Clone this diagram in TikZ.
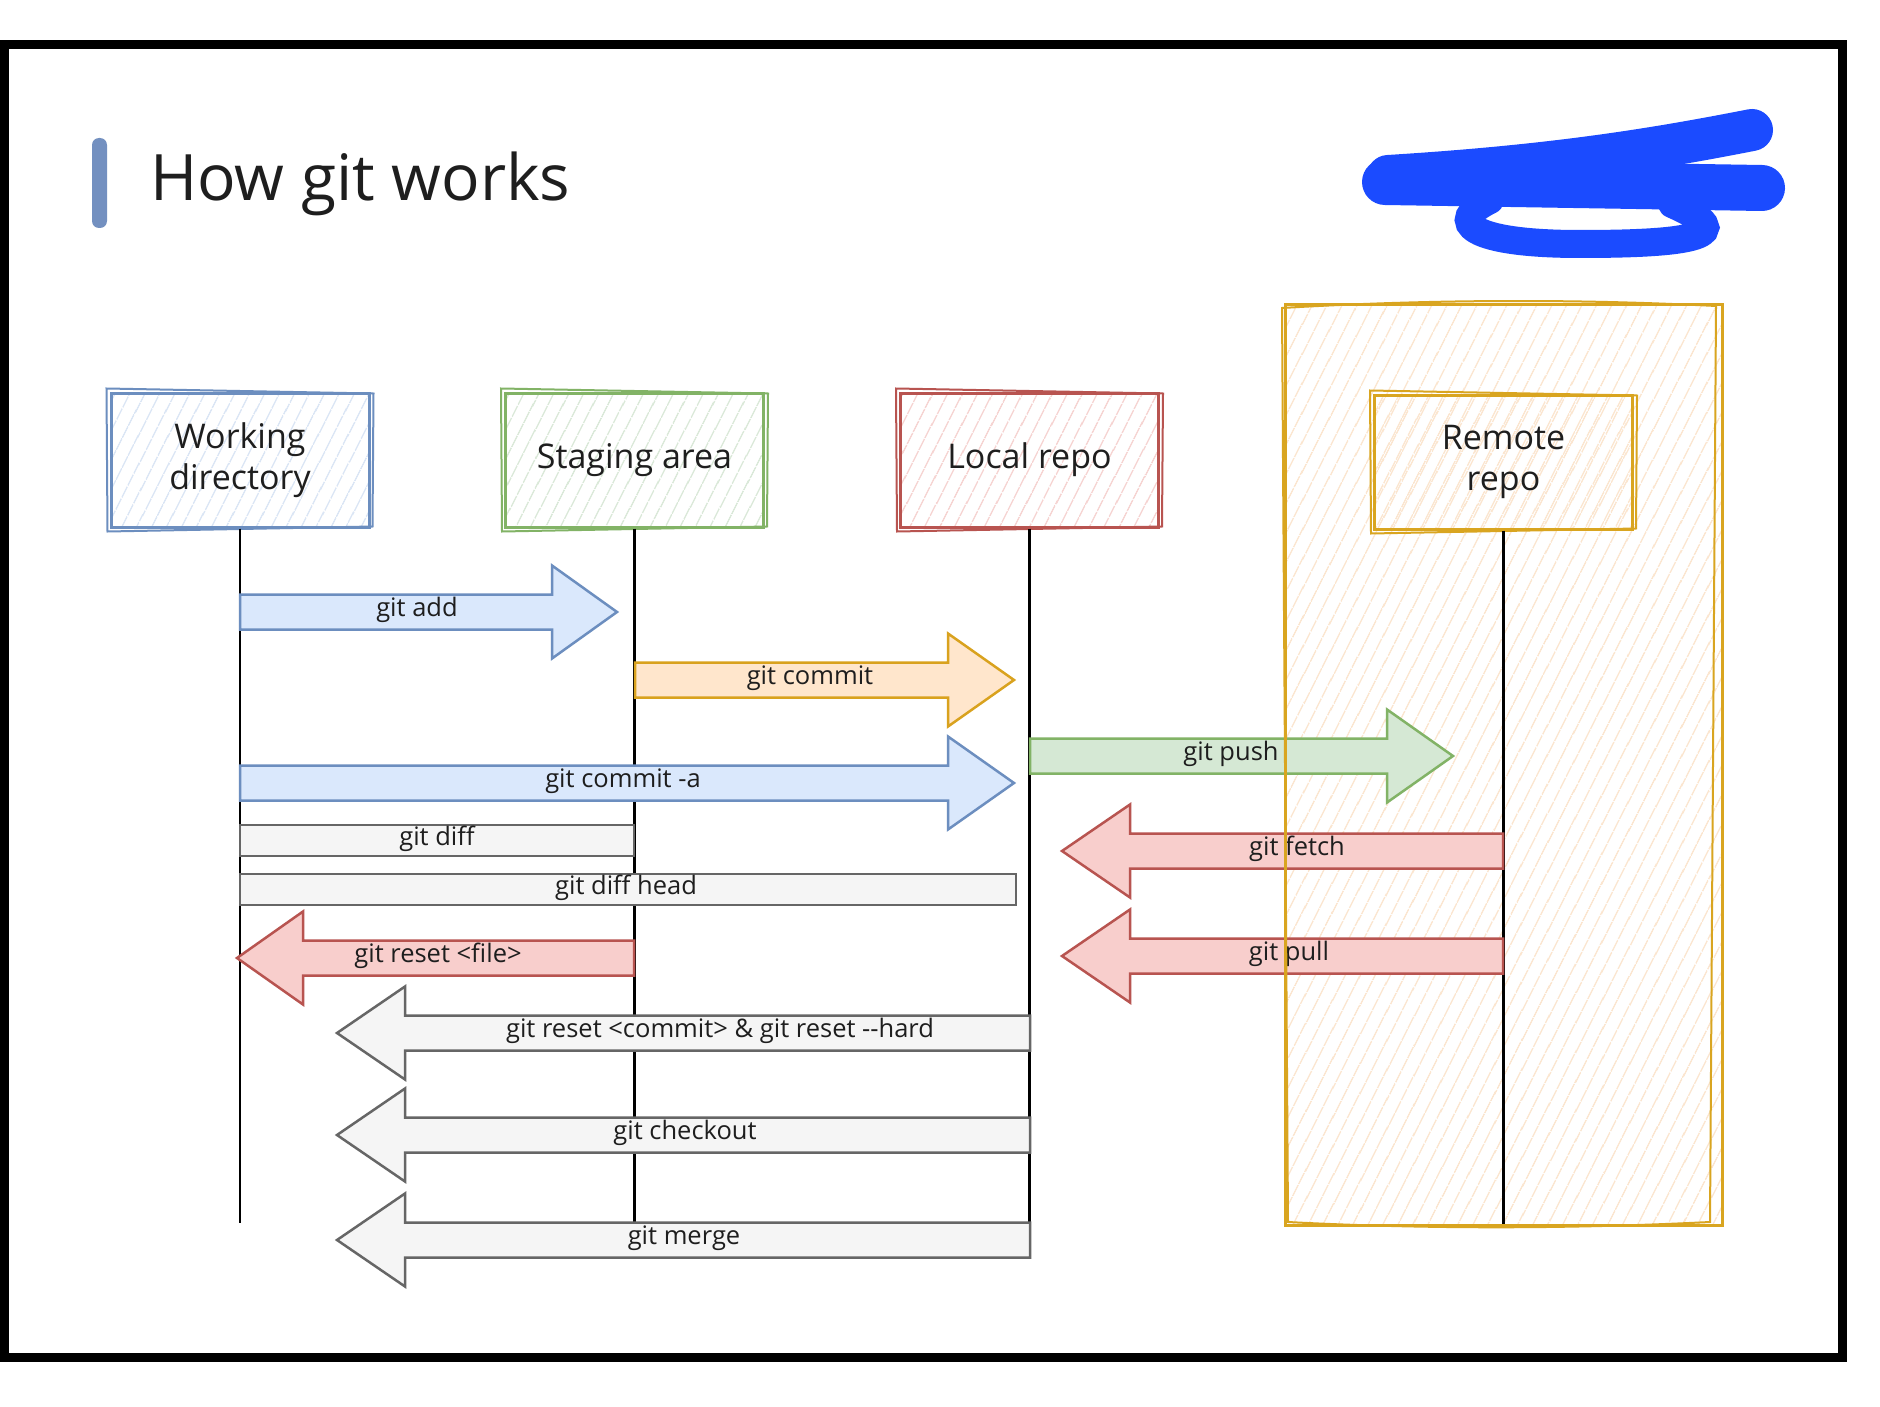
\documentclass[tikz,border=0pt]{standalone}
\usepackage{fontspec}
\setmainfont{Open Sans}
\usetikzlibrary{patterns.meta,calc}
\definecolor{ink}{HTML}{1E1E1E}
\definecolor{blueS}{HTML}{6C8EBF}
\definecolor{blueF}{HTML}{DAE8FC}
\definecolor{blueH}{HTML}{C9D9F0}
\definecolor{greenS}{HTML}{82B366}
\definecolor{greenF}{HTML}{D5E8D4}
\definecolor{greenH}{HTML}{C8DEC6}
\definecolor{redS}{HTML}{B85450}
\definecolor{redF}{HTML}{F8CECC}
\definecolor{redH}{HTML}{F2BEBB}
\definecolor{orangeS}{HTML}{D9A21E}
\definecolor{orangeF}{HTML}{FFE6CC}
\definecolor{yellowS}{HTML}{D9A520}
\definecolor{yellowH}{HTML}{FAD9B8}
\definecolor{grayS}{HTML}{666666}
\definecolor{grayF}{HTML}{F5F5F5}
\definecolor{titlebar}{HTML}{7390C0}
\definecolor{scrib}{HTML}{1B4BFF}
\tikzset{
  lbl/.style={font=\fontsize{34}{41}\selectfont, text=ink, align=center},
  albl/.style={font=\fontsize{25.5}{28}\selectfont, text=ink, inner sep=0pt},
  hatch/.style={pattern={Lines[angle=63,distance=13pt,line width=1.1pt]}, pattern color=#1},
  boxstyle/.style 2 args={draw=#1, line width=3pt, hatch=#2, minimum width=258pt, minimum height=134pt, lbl},
  rough/.style={draw=#1, line width=2pt},
  life/.style={draw=black, line width=2.5pt},
  barrow/.style 2 args={draw=#1, fill=#2, line width=2.5pt, line join=miter},
}
\newcommand\blockarrow[5]{%
  \path[#1] (#2,#5-17.5) -- (#3,#5-17.5) -- (#3,#5-46.5) -- (#4,#5) -- (#3,#5+46.5) -- (#3,#5+17.5) -- (#2,#5+17.5) -- cycle;}
\newcommand\roughen[2]{%
  \draw[rough=#2] ([shift={(-3,-3)}]#1.north west) -- ([shift={(3,2)}]#1.north east) -- ([shift={(2,-2)}]#1.south east) -- ([shift={(-2,3)}]#1.south west) -- cycle;}
\begin{document}
\begin{tikzpicture}[x=1pt,y=-1pt]
\useasboundingbox (0,0) rectangle (1880,1407);
\fill[white] (0,0) rectangle (1880,1407);
% frame
\draw[line width=9pt] (4,45) rectangle (1842,1357);
% title
\fill[titlebar, rounded corners=7pt] (92,138) rectangle (107,228);
\node[anchor=base west, font=\fontsize{64}{66}\selectfont, text=ink, inner sep=0pt] (title) at (150,201) {How git works};
% remote outer area (fill)
\path[hatch=yellowH] (1285,304) rectangle (1722,1225);
% boxes
\node[boxstyle={blueS}{blueH}] (wd) at (240,460) {Working\\directory};
\roughen{wd}{blueS}
\node[boxstyle={greenS}{greenH}] (sa) at (634.5,460) {Staging area};
\roughen{sa}{greenS}
\node[boxstyle={redS}{redH}] (lr) at (1029.5,460) {Local repo};
\roughen{lr}{redS}
\node[boxstyle={yellowS}{yellowH}] (rr) at (1503.5,462) {Remote\\repo};
\roughen{rr}{yellowS}
% lifelines
\coordinate (endA) at (0,1223);
\coordinate (endB) at (0,1225);
\draw[life] (wd.south) -- (wd.south |- endA);
\draw[life] (sa.south) -- (sa.south |- endA);
\draw[life] (lr.south) -- (lr.south |- endA);
\draw[life] (rr.south) -- (rr.south |- endB);
% arrows
\blockarrow{barrow={blueS}{blueF}}{240}{552}{617}{612}
\node[albl] (l-add) at (417,610) {git add};
\blockarrow{barrow={orangeS}{orangeF}}{635}{948}{1014}{680}
\node[albl] (l-commit) at (810,678) {git commit};
\blockarrow{barrow={greenS}{greenF}}{1030}{1387}{1453}{756}
\node[albl] (l-push) at (1231,754) {git push};
\blockarrow{barrow={blueS}{blueF}}{240}{948}{1014}{783}
\node[albl] (l-commita) at (623,781) {git commit -a};
\path[barrow={grayS}{grayF}] (240,825) rectangle (634,856);
\node[albl] (l-diff) at (437,839) {git diff};
\path[barrow={grayS}{grayF}] (240,874) rectangle (1016,905);
\node[albl] (l-diffhead) at (626,888) {git diff head};
\blockarrow{barrow={redS}{redF}}{1503}{1130}{1062}{851}
\node[albl] (l-fetch) at (1297,849) {git fetch};
\blockarrow{barrow={redS}{redF}}{1503}{1130}{1062}{956}
\node[albl] (l-pull) at (1289,954) {git pull};
\blockarrow{barrow={redS}{redF}}{634}{303}{237}{958}
\node[albl] (l-resetf) at (438,956) {git reset <file>};
\blockarrow{barrow={grayS}{grayF}}{1030}{405}{337}{1033}
\node[albl] (l-resetc) at (720,1031) {git reset <commit> \& git reset -{}-hard};
\blockarrow{barrow={grayS}{grayF}}{1030}{405}{337}{1135}
\node[albl] (l-checkout) at (685,1133) {git checkout};
\blockarrow{barrow={grayS}{grayF}}{1030}{405}{337}{1240}
\node[albl] (l-merge) at (684,1238) {git merge};
% remote outer area (border, on top)
\draw[yellowS, line width=3pt] (1285,304) rectangle (1722,1225);
\draw[yellowS, line width=2pt] (1282,308) .. controls (1450,298) and (1600,300) .. (1716,306) -- (1710,1222) .. controls (1550,1230) and (1400,1228) .. (1288,1222) -- cycle;
% redaction scribble
\draw[scrib, line width=42pt, line cap=round, line join=round] (1388,176) .. controls (1550,166) and (1650,150) .. (1752,130);
\draw[scrib, line width=46pt, line cap=round] (1385,182) -- (1762,188);
\draw[scrib, line width=28pt, line cap=round] (1490,200) .. controls (1445,222) and (1470,244) .. (1580,244) .. controls (1690,244) and (1745,236) .. (1672,204);
\end{tikzpicture}
\end{document}
